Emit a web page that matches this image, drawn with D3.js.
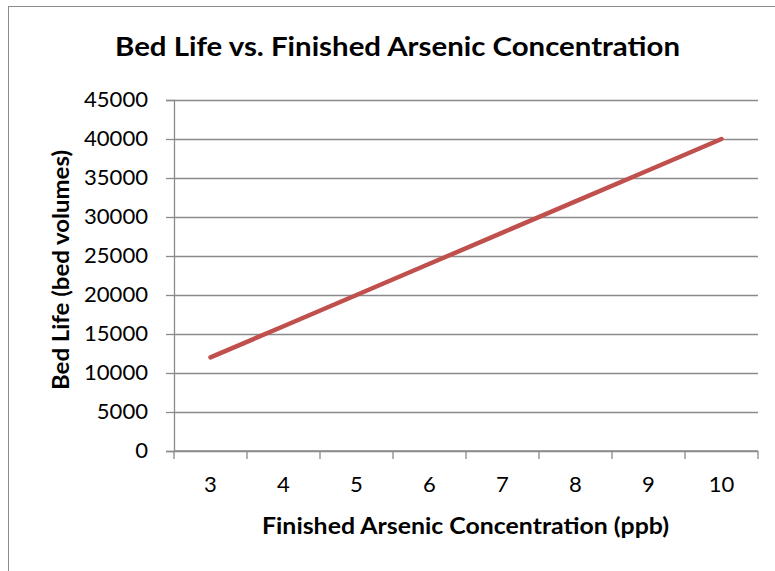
<!DOCTYPE html>
<html><head><meta charset="utf-8">
<script src="https://cdn.jsdelivr.net/npm/d3@7"></script>
<style>body{margin:0;background:#fff}svg{display:block}text{font-family:Lato,"Open Sans",sans-serif;fill:#000}</style>
</head><body>
<script>
const categories = [3, 4, 5, 6, 7, 8, 9, 10];
const bedLife = [12000, 16000, 20000, 24000, 28000, 32000, 36000, 40000];
const yTicks = [0, 5000, 10000, 15000, 20000, 25000, 30000, 35000, 40000, 45000];
const title = "Bed Life vs. Finished Arsenic Concentration";
const xTitle = "Finished Arsenic Concentration (ppb)";
const yTitle = "Bed Life (bed volumes)";

const W = 775, H = 571;
const m = {left: 174, right: 775 - 758, top: 100, bottom: 571 - 451};
const svg = d3.select("body").append("svg").attr("width", W).attr("height", H);

svg.append("rect").attr("x", 8.5).attr("y", 6.5).attr("width", 800).attr("height", 600)
  .attr("fill", "#fff").attr("stroke", "#8c8c8c").attr("stroke-width", 1);

const x = d3.scaleBand().domain(categories).range([m.left, W - m.right]);
const y = d3.scaleLinear().domain([0, 45000]).range([H - m.bottom, m.top]);

const g = svg.append("g");
g.selectAll("line.grid").data(yTicks).join("line")
  .attr("x1", m.left).attr("x2", W - m.right)
  .attr("y1", d => Math.round(y(d)) + 0.5).attr("y2", d => Math.round(y(d)) + 0.5)
  .attr("stroke", "#8a8a8a").attr("stroke-width", 1.3);

const digitW = 12.8;
const yAxis = d3.axisLeft(y).tickValues(yTicks).tickSize(8).tickPadding(18).tickFormat(d3.format("d"));
const ya = svg.append("g").attr("transform", `translate(${m.left},0)`).call(yAxis);
ya.select(".domain").attr("stroke", "#8a8a8a").attr("stroke-width", 1.3);
ya.selectAll(".tick line").attr("stroke", "#8a8a8a").attr("stroke-width", 1.3);
ya.selectAll(".tick text").style("font-size", "20.5px").style("font-family", "Lato, sans-serif").attr("fill", "#000")
  .attr("textLength", d => String(d).length * digitW).attr("lengthAdjust", "spacingAndGlyphs");

const xAxis = d3.axisBottom(x).tickSize(0).tickPadding(26);
const xa = svg.append("g").attr("transform", `translate(0,${H - m.bottom})`).call(xAxis);
xa.select(".domain").remove();
xa.selectAll(".tick text").style("font-size", "20.5px").style("font-family", "Lato, sans-serif").attr("fill", "#000")
  .attr("textLength", d => String(d).length * digitW).attr("lengthAdjust", "spacingAndGlyphs");
svg.append("line").attr("x1", m.left).attr("x2", W - m.right)
  .attr("y1", y(0)).attr("y2", y(0)).attr("stroke", "#8a8a8a").attr("stroke-width", 1.3);
const bounds = categories.map(c => x(c)).concat([W - m.right]);
svg.selectAll("line.xt").data(bounds).join("line").attr("class", "xt")
  .attr("x1", d => d).attr("x2", d => d).attr("y1", y(0)).attr("y2", y(0) + 8)
  .attr("stroke", "#8a8a8a").attr("stroke-width", 1.3);

const line = d3.line().x((d, i) => x(categories[i]) + x.bandwidth() / 2).y(d => y(d));
svg.append("path").datum(bedLife).attr("d", line).attr("fill", "none")
  .attr("stroke", "#C0504D").attr("stroke-width", 4.5).attr("stroke-linecap", "round");

svg.append("text").attr("x", 397.5).attr("y", 56).attr("text-anchor", "middle")
  .attr("textLength", 565).attr("lengthAdjust", "spacingAndGlyphs")
  .style("font-size", "26px").style("font-weight", "bold").text(title);
svg.append("text").attr("x", 465.5).attr("y", 534).attr("text-anchor", "middle")
  .attr("textLength", 407).attr("lengthAdjust", "spacingAndGlyphs")
  .style("font-size", "23.5px").style("font-weight", "bold").text(xTitle);
svg.append("text").attr("transform", "translate(69,270) rotate(-90)").attr("text-anchor", "middle")
  .attr("textLength", 240).attr("lengthAdjust", "spacingAndGlyphs")
  .style("font-size", "23.5px").style("font-weight", "bold").text(yTitle);
</script>
</body></html>
